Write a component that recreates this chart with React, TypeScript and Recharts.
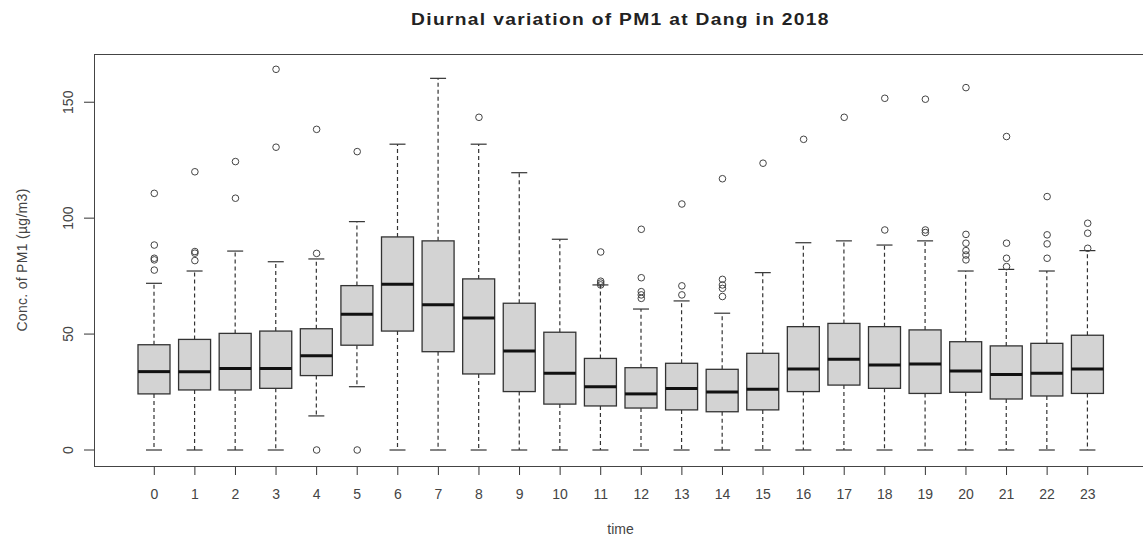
import React from 'react';
import { ComposedChart, Bar, Scatter, XAxis, YAxis } from 'recharts';

// diurnal PM1 box statistics
const hours = ['0', '1', '2', '3', '4', '5', '6', '7', '8', '9', '10', '11', '12', '13', '14', '15', '16', '17', '18', '19', '20', '21', '22', '23'];
const lowerWhisker = [0, 0, 0, 0, 14.7, 27.3, 0, 0, 0, 0, 0, 0, 0, 0, 0, 0, 0, 0, 0, 0, 0, 0, 0, 0];
const q1 = [24.2, 25.9, 25.9, 26.6, 32.1, 45.2, 51.3, 42.4, 32.8, 25.2, 19.8, 19.0, 18.1, 17.3, 16.5, 17.3, 25.2, 28.0, 26.6, 24.4, 24.9, 22.0, 23.3, 24.4];
const median = [33.8, 33.8, 35.2, 35.2, 40.7, 58.5, 71.5, 62.6, 56.9, 42.7, 33.1, 27.3, 24.2, 26.5, 25.0, 26.2, 34.9, 39.1, 36.7, 37.1, 34.1, 32.6, 33.1, 34.9];
const q3 = [45.4, 47.7, 50.3, 51.3, 52.3, 70.9, 91.9, 90.2, 73.8, 63.3, 50.8, 39.5, 35.5, 37.4, 34.8, 41.7, 53.2, 54.6, 53.2, 51.8, 46.7, 44.9, 46.0, 49.5];
const upperWhisker = [71.9, 77.2, 85.8, 81.2, 82.4, 98.5, 131.9, 160.3, 131.9, 119.6, 90.9, 71.2, 60.8, 64.3, 59.0, 76.5, 89.4, 90.2, 88.4, 90.2, 77.2, 77.9, 77.2, 86.0];
const outliers = [
  [110.7, 88.4, 82.7, 82.0, 77.6],
  [120, 85.6, 84.9, 81.7],
  [124.4, 108.6],
  [164.2, 130.6],
  [138.3, 84.8, 0],
  [128.7, 0],
  [],
  [],
  [143.5],
  [],
  [],
  [85.4, 72.8, 72.0, 71.2],
  [95.2, 74.3, 68.3, 66.9, 65.4],
  [106.1, 70.8, 66.9],
  [117, 73.6, 71.2, 69.7, 66.2],
  [123.7],
  [134],
  [143.5],
  [151.7, 94.9],
  [151.3, 94.9, 93.8],
  [156.3, 93, 89.2, 86, 84.1, 82],
  [135.2, 89.2, 82.7, 79.1],
  [109.3, 92.8, 88.9, 82.7],
  [97.8, 93.5, 87],
];
const yTicks = [0, 50, 100, 150];

const maxOut = Math.max(...outliers.map((o) => o.length));
const outKeys = Array.from({ length: maxOut }, (_, i) => `o${i}`);

const data = hours.map((h, i) => {
  const row: any = {
    hour: h,
    lo: lowerWhisker[i],
    q1: q1[i],
    med: median[i],
    q3: q3[i],
    hi: upperWhisker[i],
  };
  outKeys.forEach((k, j) => {
    row[k] = outliers[i][j] ?? null;
  });
  return row;
});

const INK = '#333';
const FONT = '"Liberation Sans", Arial, sans-serif';

function BoxShape(props: any) {
  const { x, y, width, height, payload } = props;
  if (payload == null || width == null) return <g />;
  const top = Math.min(y, y + height);
  const bottom = Math.max(y, y + height);
  const k = (bottom - top) / (payload.hi - payload.lo);
  const py = (v: number) => bottom - (v - payload.lo) * k;
  const cx = x + width / 2;
  const cap = width / 4;
  return (
    <g>
      <line x1={cx} x2={cx} y1={py(payload.q3)} y2={py(payload.hi)} stroke={INK} strokeWidth={1.2} strokeDasharray="4 3" />
      <line x1={cx} x2={cx} y1={py(payload.q1)} y2={py(payload.lo)} stroke={INK} strokeWidth={1.2} strokeDasharray="4 3" />
      <line x1={cx - cap} x2={cx + cap} y1={py(payload.hi)} y2={py(payload.hi)} stroke={INK} strokeWidth={1.2} />
      <line x1={cx - cap} x2={cx + cap} y1={py(payload.lo)} y2={py(payload.lo)} stroke={INK} strokeWidth={1.2} />
      <rect
        x={x}
        y={py(payload.q3)}
        width={width}
        height={py(payload.q1) - py(payload.q3)}
        fill="#d3d3d3"
        stroke={INK}
        strokeWidth={1.3}
      />
      <line x1={x} x2={x + width} y1={py(payload.med)} y2={py(payload.med)} stroke="#111" strokeWidth={3} />
    </g>
  );
}

function outlierShape(key: string) {
  return (p: any) => {
    const v = p.payload ? p.payload[key] : null;
    if (v == null || !Number.isFinite(p.cy)) return <g />;
    return <circle cx={p.cx} cy={p.cy} r={3.3} fill="none" stroke="#444" strokeWidth={1} />;
  };
}

function YTick(props: any) {
  const { x, y, payload } = props;
  const tx = x - 14;
  return (
    <text
      x={tx}
      y={y}
      transform={`rotate(-90, ${tx}, ${y})`}
      textAnchor="middle"
      dominantBaseline="central"
      fontSize={14}
      fontFamily={FONT}
      fill="#444"
    >
      {payload.value}
    </text>
  );
}

export default function App() {
  return (
    <div style={{ position: 'relative', width: 1143, height: 539, overflow: 'hidden', background: '#fff', fontFamily: FONT }}>
      <style>{'body{margin:0}'}</style>
      <div
        style={{
          position: 'absolute',
          left: 94,
          width: 1053,
          top: 11,
          textAlign: 'center',
          fontSize: 16,
          fontWeight: 'bold',
          lineHeight: '18px',
          color: '#222',
        }}
      >
        <span style={{ display: 'inline-block', transform: 'scaleX(1.2)', letterSpacing: 1.1 }}>
          Diurnal variation of PM1 at Dang in 2018
        </span>
      </div>
      <div
        style={{
          position: 'absolute',
          left: 94,
          width: 1053,
          top: 521,
          textAlign: 'center',
          fontSize: 14,
          lineHeight: '16px',
          color: '#444',
        }}
      >
        time
      </div>
      <div
        style={{
          position: 'absolute',
          left: 22,
          top: 260,
          transform: 'translate(-50%, -50%) rotate(-90deg)',
          whiteSpace: 'nowrap',
          fontSize: 14,
          lineHeight: '16px',
          color: '#444',
          letterSpacing: 0.3,
        }}
      >
        Conc. of PM1 (µg/m3)
      </div>
      <ComposedChart width={1143} height={539} data={data} margin={{ top: 54, right: 0, bottom: 0, left: 0 }}>
        <XAxis
          dataKey="hour"
          type="category"
          height={73}
          padding={{ left: 40, right: 35 }}
          axisLine={false}
          tickLine={{ stroke: INK }}
          tickSize={9}
          tickMargin={14}
          interval={0}
          tick={{ fontSize: 14, fontFamily: FONT, fill: '#444' }}
        />
        <YAxis
          type="number"
          domain={[-6.9, 170.8]}
          allowDataOverflow
          ticks={yTicks}
          width={94}
          axisLine={false}
          tickLine={{ stroke: INK }}
          tickSize={10}
          tickMargin={2}
          tick={<YTick />}
        />
        <Bar
          dataKey={(d: any) => [d.lo, d.hi]}
          barSize={32}
          shape={<BoxShape />}
          isAnimationActive={false}
        />
        {outKeys.map((k) => (
          <Scatter key={k} dataKey={k} shape={outlierShape(k)} isAnimationActive={false} />
        ))}
      </ComposedChart>
      <div
        style={{
          position: 'absolute',
          left: 94,
          top: 54,
          width: 1060,
          height: 411,
          border: '1.5px solid #444',
          pointerEvents: 'none',
        }}
      />
    </div>
  );
}
